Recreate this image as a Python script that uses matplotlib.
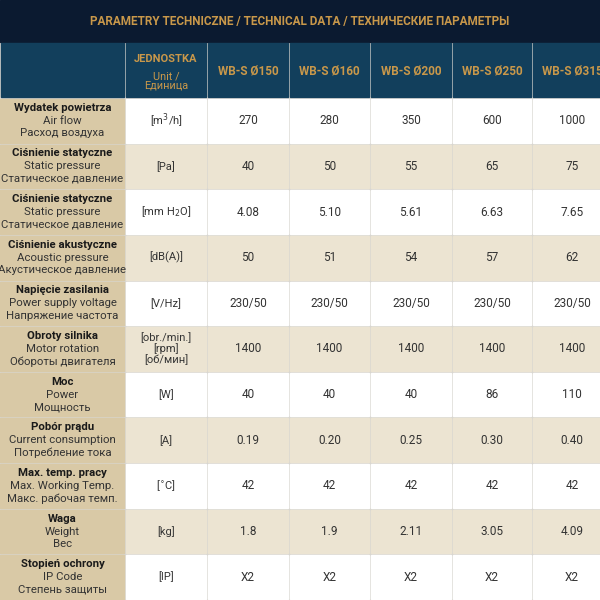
import matplotlib
matplotlib.use("Agg")
import matplotlib.pyplot as plt
from matplotlib.patches import Rectangle

plt.rcParams['font.family'] = ['Roboto', 'DejaVu Sans']

title = "PARAMETRY TECHNICZNE / TECHNICAL DATA / ТЕХНИЧЕСКИЕ ПАРАМЕТРЫ"
models = ["WB-S Ø150", "WB-S Ø160", "WB-S Ø200", "WB-S Ø250", "WB-S Ø315"]
params_pl = ["Wydatek powietrza", "Ciśnienie statyczne", "Ciśnienie statyczne", "Ciśnienie akustyczne",
             "Napięcie zasilania", "Obroty silnika", "Moc", "Pobór prądu", "Max. temp. pracy", "Waga",
             "Stopień ochrony"]
params_en = ["Air flow", "Static pressure", "Static pressure", "Acoustic pressure", "Power supply voltage",
             "Motor rotation", "Power", "Current consumption", "Max. Working Temp.", "Weight", "IP Code"]
params_ru = ["Расход воздуха", "Статическое давление", "Статическое давление", "Акустическое давление",
             "Напряжение частота", "Обороты двигателя", "Мощность", "Потребление тока",
             "Макс. рабочая темп.", "Вес", "Степень защиты"]
units = ["[m$^3$/h]", "[Pa]", "[mm H$_2$O]", "[dB(A)]", "[V/Hz]", "[obr./min.]\n[rpm]\n[об/мин]",
         "[W]", "[A]", "[$^{\\circ}$C]", "[kg]", "[IP]"]
values = [
    ["270", "280", "350", "600", "1000"],
    ["40", "50", "55", "65", "75"],
    ["4.08", "5.10", "5.61", "6.63", "7.65"],
    ["50", "51", "54", "57", "62"],
    ["230/50", "230/50", "230/50", "230/50", "230/50"],
    ["1400", "1400", "1400", "1400", "1400"],
    ["40", "40", "40", "86", "110"],
    ["0.19", "0.20", "0.25", "0.30", "0.40"],
    ["42", "42", "42", "42", "42"],
    ["1.8", "1.9", "2.11", "3.05", "4.09"],
    ["X2", "X2", "X2", "X2", "X2"],
]

fig = plt.figure(figsize=(6, 6), dpi=100)
fig.patch.set_facecolor("#d8d6d0")
ax = fig.add_axes([0, 0, 1, 1])
ax.set_xlim(0, 600); ax.set_ylim(600, 0); ax.axis('off')

gold = "#c9984a"
ax.add_patch(Rectangle((0, 0), 600, 42, color="#0b1a30"))
ax.text(300, 21, title, color=gold, fontsize=8.5, ha='center', va='center', fontweight='bold')

xs = [0, 125, 207, 289, 370, 452, 532, 612]
hy0, hy1 = 43, 98
rowh = (600 - hy1) / len(params_pl)

for i in range(len(xs) - 1):
    ax.add_patch(Rectangle((xs[i] + 1, hy0), xs[i + 1] - xs[i] - 2, hy1 - hy0 - 1, color="#123f5c"))
ax.text((xs[1] + xs[2]) / 2, 59, "JEDNOSTKA", color=gold, fontsize=8, ha='center', va='center', fontweight='bold')
ax.text((xs[1] + xs[2]) / 2, 81, "Unit /\nЕдиница", color=gold, fontsize=7.8, ha='center', va='center', linespacing=1.0)
for j, m in enumerate(models):
    ax.text((xs[j + 2] + xs[j + 3]) / 2, 71, m, color=gold, fontsize=8.5, ha='center', va='center', fontweight='bold')

for r in range(len(params_pl)):
    y0 = hy1 + r * rowh
    yc = y0 + rowh / 2
    bg = "white" if r % 2 == 0 else "#ece4d2"
    ax.add_patch(Rectangle((0, y0 + 1), xs[1] - 1, rowh - 2, color="#d9c9a6"))
    for i in range(1, len(xs) - 1):
        ax.add_patch(Rectangle((xs[i] + 1, y0 + 1), xs[i + 1] - xs[i] - 2, rowh - 2, color=bg))
    cx = xs[1] / 2
    ax.text(cx, yc - 13, params_pl[r], fontsize=8.2, fontweight='bold', ha='center', va='center', color="#1a1a1a")
    ax.text(cx, yc, params_en[r], fontsize=8.2, ha='center', va='center', color="#333333")
    ax.text(cx, yc + 12.5, params_ru[r], fontsize=8.2, ha='center', va='center', color="#333333")
    ax.text((xs[1] + xs[2]) / 2, yc, units[r], fontsize=8, ha='center', va='center', color="#333333",
            linespacing=1.0)
    for j, v in enumerate(values[r]):
        ax.text((xs[j + 2] + xs[j + 3]) / 2, yc, v, fontsize=8.5, ha='center', va='center', color="#333333")

fig.savefig("out.png", dpi=100)
